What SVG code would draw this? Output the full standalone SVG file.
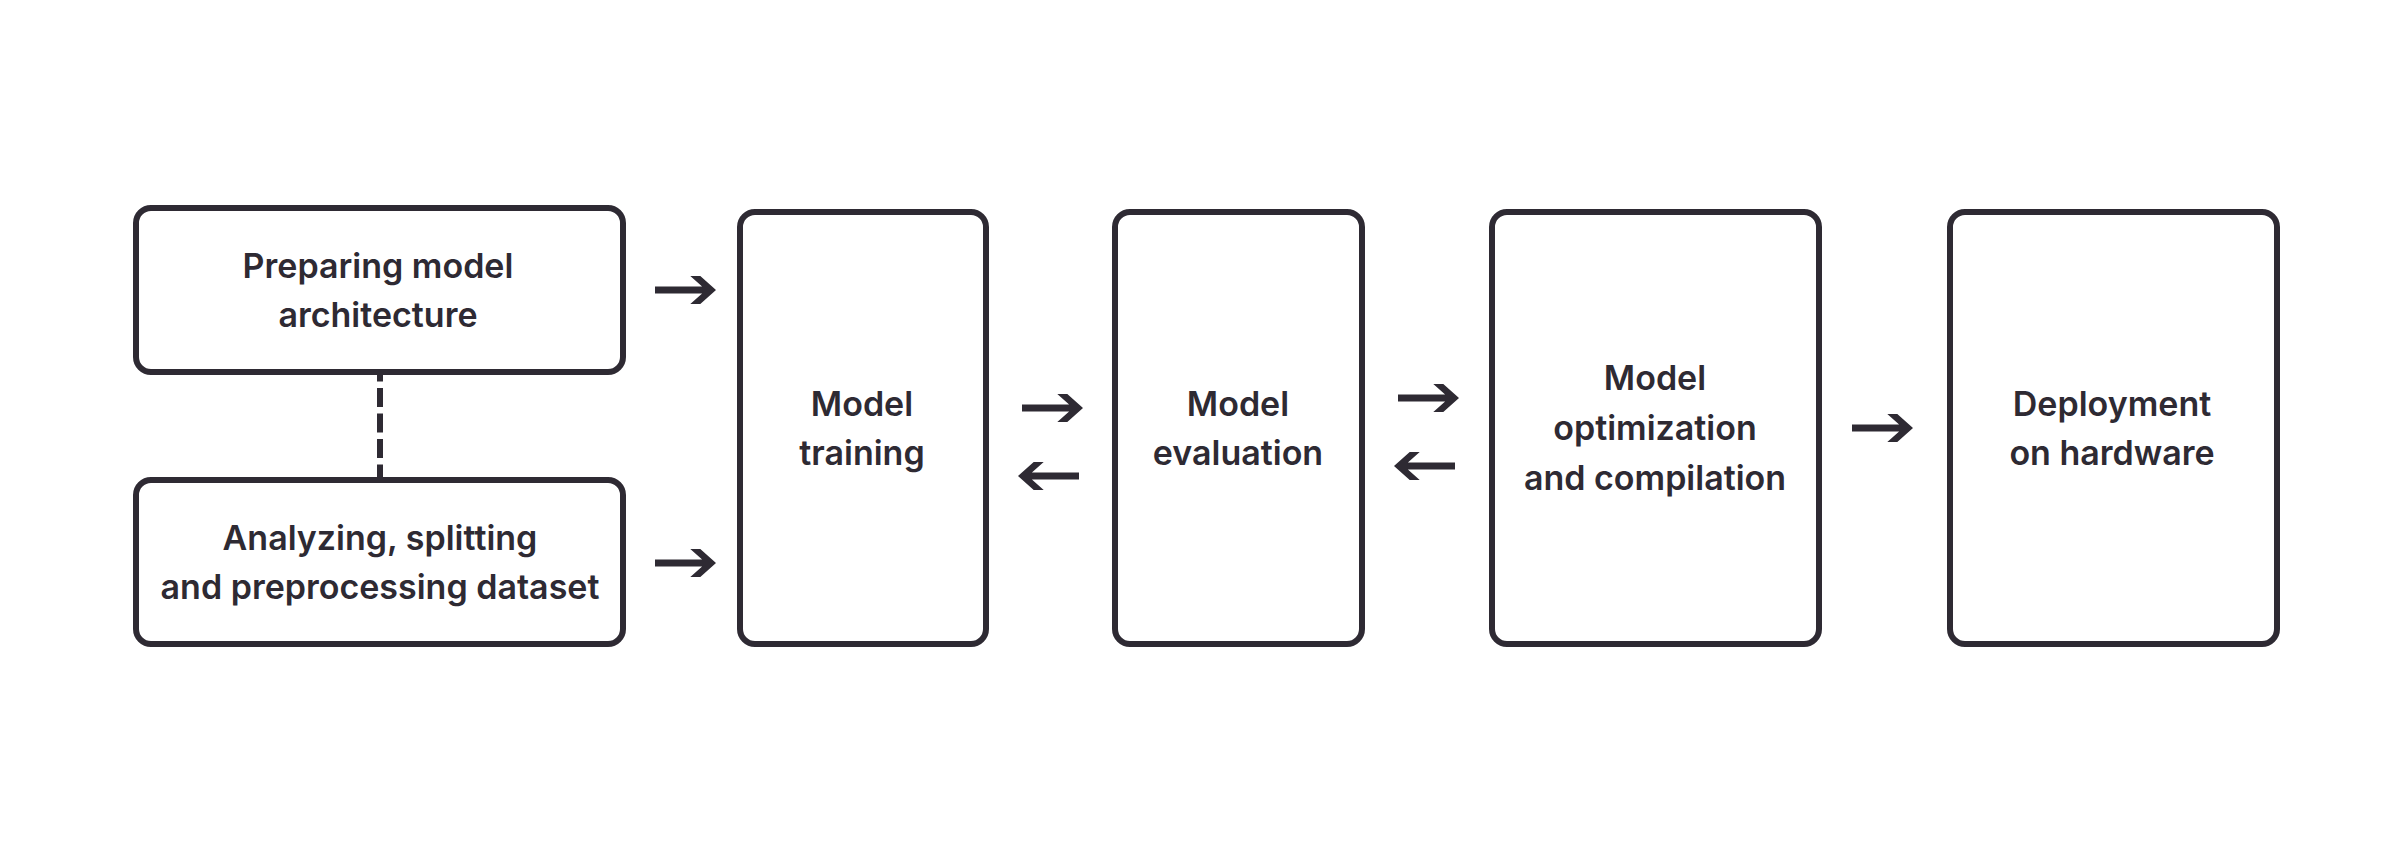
<svg xmlns="http://www.w3.org/2000/svg" xmlns:xlink="http://www.w3.org/1999/xlink" width="2400" height="850" viewBox="0 0 2400 850">
  <style>
    .box { fill: #ffffff; stroke: #2e2a33; stroke-width: 6; }
    .lbl { font-family: Inter, "Liberation Sans", sans-serif; font-weight: 600; font-size: 34px; fill: #2e2a33; text-anchor: middle; }
    .dash { stroke: #2e2a33; stroke-width: 6; stroke-dasharray: 19 6.5; fill: none; }
    .arr { fill: #2e2a33; }
  </style>
  <defs>
    <path id="arrow" d="M -61 -3.5 L -13.9 -3.5 L -25.7 -14 L -15.7 -14 L 0 0 L -15.7 14 L -25.7 14 L -13.9 3.5 L -61 3.5 Z"/>
  </defs>
  <rect width="2400" height="850" fill="#ffffff"/>

  <g id="connectors">
    <line class="dash" x1="380" y1="362.5" x2="380" y2="482"/>
    <use href="#arrow" class="arr" transform="translate(716,290)"/>
    <use href="#arrow" class="arr" transform="translate(716,563)"/>
    <use href="#arrow" class="arr" transform="translate(1083,408)"/>
    <use href="#arrow" class="arr" transform="translate(1018,476) scale(-1,1)"/>
    <use href="#arrow" class="arr" transform="translate(1459,398)"/>
    <use href="#arrow" class="arr" transform="translate(1394,466) scale(-1,1)"/>
    <use href="#arrow" class="arr" transform="translate(1913,428)"/>
  </g>

  <g id="node-prep-arch">
    <rect class="box" x="136" y="208" width="487" height="164" rx="15" ry="15"/>
    <text class="lbl" x="378" y="278">Preparing model</text>
    <text class="lbl" x="378" y="327">architecture</text>
  </g>

  <g id="node-dataset">
    <rect class="box" x="136" y="480" width="487" height="164" rx="15" ry="15"/>
    <text class="lbl" x="380" y="550">Analyzing, splitting</text>
    <text class="lbl" x="380" y="599">and preprocessing dataset</text>
  </g>

  <g id="node-training">
    <rect class="box" x="740" y="212" width="246" height="432" rx="15" ry="15"/>
    <text class="lbl" x="862" y="416">Model</text>
    <text class="lbl" x="862" y="465">training</text>
  </g>

  <g id="node-evaluation">
    <rect class="box" x="1115" y="212" width="247" height="432" rx="15" ry="15"/>
    <text class="lbl" x="1238" y="416">Model</text>
    <text class="lbl" x="1238" y="465">evaluation</text>
  </g>

  <g id="node-optimization">
    <rect class="box" x="1492" y="212" width="327" height="432" rx="15" ry="15"/>
    <text class="lbl" x="1655" y="390">Model</text>
    <text class="lbl" x="1655" y="440">optimization</text>
    <text class="lbl" x="1655" y="490">and compilation</text>
  </g>

  <g id="node-deployment">
    <rect class="box" x="1950" y="212" width="327" height="432" rx="15" ry="15"/>
    <text class="lbl" x="2112" y="416">Deployment</text>
    <text class="lbl" x="2112" y="465">on hardware</text>
  </g>
</svg>
